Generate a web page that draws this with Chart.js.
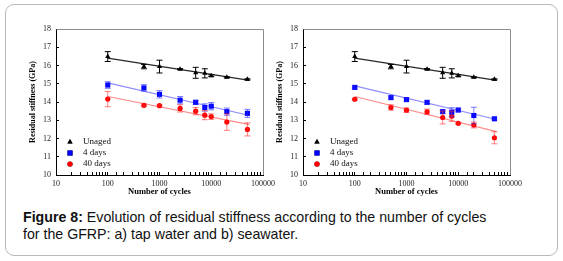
<!DOCTYPE html>
<html>
<head>
<meta charset="utf-8">
<script src="https://cdn.jsdelivr.net/npm/chart.js@4.4.1/dist/chart.umd.min.js"></script>
<style>
    body { margin: 0; background: #fff; width: 563px; height: 261px; position: relative; overflow: hidden; }
    .frame { position: absolute; left: 5px; top: 4px; width: 553px; height: 252px; border: 1px solid #b8b8b8; border-radius: 9px; box-sizing: border-box; }
    .plot { position: absolute; top: 0; width: 285px; height: 200px; }
    #plotA { left: 0; }
    #plotB { left: 275px; }
    .caption { position: absolute; left: 23px; top: 209px; font: 14.2px "Liberation Sans", Arial, sans-serif; line-height: 17px; color: #111; white-space: nowrap; }
</style>
</head>
<body>
<div class="frame"></div>
<div class="plot" id="plotA"><canvas id="chartA"></canvas></div>
<div class="plot" id="plotB"><canvas id="chartB"></canvas></div>
<div class="caption"><b>Figure 8:</b> Evolution of residual stiffness according to the number of cycles<br>for the GFRP: a) tap water and b) seawater.</div>

<script>
// number of cycles, shared by all series
const cycles = [100, 500, 1000, 2500, 5000, 7500, 10000, 20000, 50000];
const xTickLabels = [10, 100, 1000, 10000, 100000];
const yTickLabels = [10, 11, 12, 13, 14, 15, 16, 17, 18];
const seriesNames = ['Unaged', '4 days', '40 days'];

// a) tap water
const unagedA = [16.49, 15.94, 15.94, 15.80, 15.60, 15.57, 15.44, 15.35, 15.24];
const unagedErrA = [0.27, 0.12, 0.35, 0.03, 0.30, 0.25, 0.05, 0.03, 0.03];
const days4A = [14.93, 14.77, 14.42, 14.10, 13.98, 13.70, 13.77, 13.47, 13.38];
const days4ErrA = [0.18, 0.18, 0.20, 0.20, 0.12, 0.20, 0.20, 0.20, 0.22];
const days40A = [14.16, 13.82, 13.80, 13.65, 13.50, 13.28, 13.20, 12.90, 12.50];
const days40ErrA = [0.42, 0.08, 0.05, 0.20, 0.20, 0.25, 0.15, 0.45, 0.36];

// b) seawater
const unagedB = [16.49, 15.94, 15.94, 15.80, 15.60, 15.57, 15.44, 15.35, 15.24];
const unagedErrB = [0.27, 0.12, 0.35, 0.03, 0.30, 0.25, 0.05, 0.03, 0.03];
const days4B = [14.80, 14.24, 14.13, 13.98, 13.47, 13.44, 13.56, 13.26, 13.08];
const days4ErrB = [0.08, 0.08, 0.08, 0.10, 0.10, 0.25, 0.10, 0.45, 0.05];
const days40B = [14.15, 13.70, 13.55, 13.46, 13.15, 13.22, 12.83, 12.74, 12.04];
const days40ErrB = [0.06, 0.15, 0.12, 0.15, 0.35, 0.28, 0.05, 0.16, 0.33];

// fitted trend lines (start and end of each line)
const trendX = [100, 55000];
const unagedFitA = [16.40, 15.18];
const days4FitA = [15.05, 13.26];
const days40FitA = [14.30, 12.76];
const unagedFitB = [16.40, 15.18];
const days4FitB = [14.88, 13.04];
const days40FitB = [14.30, 12.38];

const serif = '"Liberation Serif", "Times New Roman", serif';

function pts(xs, ys) {
    return xs.map((x, i) => ({ x: x, y: ys[i] }));
}

// vertical error bars with caps, drawn through the chart scales
const errorBars = {
    id: 'errorBars',
    afterDatasetsDraw(chart) {
        const ctx = chart.ctx;
        const xs = chart.scales.x;
        const ys = chart.scales.y;
        chart.data.datasets.forEach((ds) => {
            if (!ds.errors) return;
            ctx.save();
            ctx.strokeStyle = ds.errorColor;
            ctx.lineWidth = 1;
            ds.data.forEach((p, i) => {
                const e = ds.errors[i];
                const px = xs.getPixelForValue(p.x);
                const top = ys.getPixelForValue(p.y + e);
                const bot = ys.getPixelForValue(p.y - e);
                ctx.beginPath();
                ctx.moveTo(px, top);
                ctx.lineTo(px, bot);
                ctx.moveTo(px - 3, top);
                ctx.lineTo(px + 3, top);
                ctx.moveTo(px - 3, bot);
                ctx.lineTo(px + 3, bot);
                ctx.stroke();
            });
            ctx.restore();
        });
    }
};

// grey top/right frame and legend in the lower left of the plot area
const frameAndLegend = {
    id: 'frameAndLegend',
    afterDraw(chart) {
        const ctx = chart.ctx;
        const a = chart.chartArea;
        ctx.save();
        ctx.strokeStyle = '#8c8c8c';
        ctx.lineWidth = 1;
        ctx.beginPath();
        ctx.moveTo(Math.round(a.left) + 0.5, Math.round(a.top) + 0.5);
        ctx.lineTo(Math.round(a.right) + 0.5, Math.round(a.top) + 0.5);
        ctx.lineTo(Math.round(a.right) + 0.5, Math.round(a.bottom));
        ctx.stroke();

        const marks = chart.data.datasets.filter((ds) => ds.errors);
        ctx.font = '9px ' + serif;
        ctx.fillStyle = '#111';
        ctx.textBaseline = 'middle';
        marks.forEach((ds, i) => {
            const y = a.bottom - 33 + i * 11;
            Chart.helpers.drawPoint(ctx, {
                pointStyle: ds.pointStyle,
                radius: ds.pointRadius,
                borderWidth: 0
            }, a.left + 14, y);
            ctx.fillStyle = ds.backgroundColor;
            ctx.fill();
            ctx.fillStyle = '#111';
            ctx.fillText(ds.label, a.left + 27, y);
        });
        ctx.restore();
    }
};

function makeChart(id, values, errs, fits, padLeft, padRight) {
    const styles = [
        { color: '#000000', err: '#000000', fit: '#262626', shape: 'triangle', r: 3 },
        { color: '#0000ff', err: 'rgba(40,40,255,0.6)', fit: '#8c8cff', shape: 'rect', r: 3.6 },
        { color: '#ff0000', err: 'rgba(255,40,40,0.6)', fit: '#ff8c8c', shape: 'circle', r: 2.6 }
    ];
    const datasets = [];
    values.forEach((v, i) => {
        datasets.push({
            label: seriesNames[i] + ' fit',
            data: pts(trendX, fits[i]),
            showLine: true,
            borderColor: styles[i].fit,
            borderWidth: 1.2,
            pointRadius: 0,
            order: 2
        });
    });
    values.forEach((v, i) => {
        datasets.push({
            label: seriesNames[i],
            data: pts(cycles, v),
            errors: errs[i],
            errorColor: styles[i].err,
            backgroundColor: styles[i].color,
            borderColor: styles[i].color,
            borderWidth: 0,
            pointStyle: styles[i].shape,
            pointRadius: styles[i].r,
            order: 1
        });
    });

    return new Chart(document.getElementById(id), {
        type: 'scatter',
        data: { datasets: datasets },
        plugins: [errorBars, frameAndLegend],
        options: {
            responsive: true,
            maintainAspectRatio: false,
            animation: false,
            events: [],
            layout: { padding: { top: 29, left: padLeft, right: padRight, bottom: 0 } },
            plugins: { legend: { display: false }, tooltip: { enabled: false } },
            scales: {
                x: {
                    type: 'logarithmic',
                    min: xTickLabels[0],
                    max: xTickLabels[xTickLabels.length - 1],
                    afterFit(scale) { scale.height = 25; },
                    border: { display: true, color: '#000', width: 1 },
                    grid: { drawOnChartArea: false, drawTicks: true, tickLength: -3, color: '#000' },
                    ticks: {
                        autoSkip: false,
                        maxRotation: 0,
                        padding: 7,
                        color: '#222',
                        font: { family: serif, size: 8 },
                        callback(value) {
                            return xTickLabels.includes(value) ? String(value) : '';
                        }
                    },
                    title: {
                        display: true,
                        text: 'Number of cycles',
                        color: '#000',
                        padding: 3,
                        font: { family: serif, size: 8.5, weight: 'bold' }
                    }
                },
                y: {
                    min: yTickLabels[0],
                    max: yTickLabels[yTickLabels.length - 1],
                    afterFit(scale) { scale.width = 28; },
                    border: { display: true, color: '#000', width: 1 },
                    grid: { drawOnChartArea: false, drawTicks: true, tickLength: -3, color: '#000' },
                    ticks: {
                        stepSize: 1,
                        padding: 8,
                        color: '#222',
                        font: { family: serif, size: 8 }
                    },
                    title: {
                        display: true,
                        text: 'Residual stiffness (GPa)',
                        color: '#000',
                        padding: 0.5,
                        font: { family: serif, size: 8, weight: 'bold' }
                    }
                }
            }
        }
    });
}

makeChart('chartA',
    [unagedA, days4A, days40A],
    [unagedErrA, days4ErrA, days40ErrA],
    [unagedFitA, days4FitA, days40FitA],
    28, 22);

makeChart('chartB',
    [unagedB, days4B, days40B],
    [unagedErrB, days4ErrB, days40ErrB],
    [unagedFitB, days4FitB, days40FitB],
    0, 50);
</script>
</body>
</html>
